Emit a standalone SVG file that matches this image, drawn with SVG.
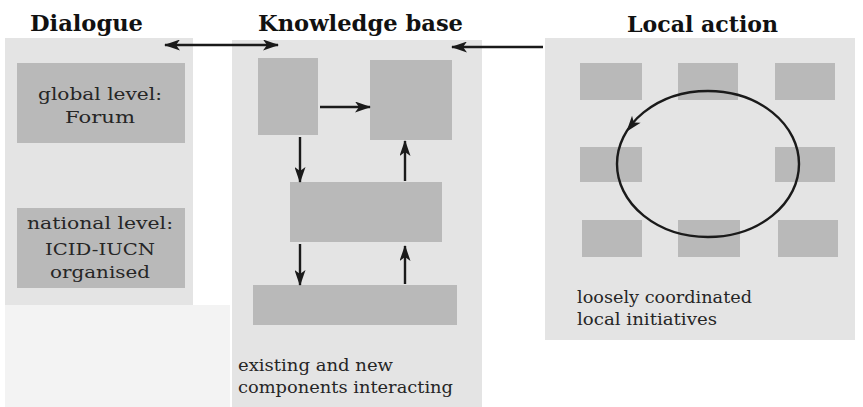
<svg xmlns="http://www.w3.org/2000/svg" width="863" height="407" viewBox="0 0 863 407">
<defs>
<style>
.panel{fill:#e4e4e4}
.box{fill:#b9b9b9}
.head{font-family:"DejaVu Serif","Liberation Serif",serif;font-weight:bold;font-size:22px;fill:#111}
.lbl{font-family:"DejaVu Serif","Liberation Serif",serif;font-size:17px;fill:#262626}
.cap{font-family:"DejaVu Serif","Liberation Serif",serif;font-size:16px;fill:#262626}
.conn{stroke:#1a1a1a;stroke-width:2.4;fill:none}
</style>
<marker id="ah" viewBox="0 0 16 11" refX="15" refY="5.5" markerWidth="16" markerHeight="11" markerUnits="userSpaceOnUse" orient="auto-start-reverse">
<path d="M0,0 L16,5.5 L0,11 L4,5.5 z" fill="#1a1a1a"/>
</marker>
</defs>
<rect width="863" height="407" fill="#ffffff"/>
<rect x="5" y="305" width="225" height="102" fill="#f3f3f3"/>

<g id="dialogue">
<rect class="panel" x="5" y="38" width="188" height="267"/>
<text class="head" x="30" y="31" textLength="113" lengthAdjust="spacingAndGlyphs">Dialogue</text>
</g>
<g id="global-level">
<rect class="box" x="17" y="63" width="168" height="80"/>
<text class="lbl" x="100" y="100" text-anchor="middle" textLength="124" lengthAdjust="spacingAndGlyphs">global level:</text>
<text class="lbl" x="100" y="123" text-anchor="middle" textLength="70" lengthAdjust="spacingAndGlyphs">Forum</text>
</g>
<g id="national-level">
<rect class="box" x="17" y="208" width="168" height="80"/>
<text class="lbl" x="100" y="229" text-anchor="middle" textLength="146" lengthAdjust="spacingAndGlyphs">national level:</text>
<text class="lbl" x="100" y="255" text-anchor="middle" textLength="110" lengthAdjust="spacingAndGlyphs">ICID-IUCN</text>
<text class="lbl" x="100" y="278" text-anchor="middle" textLength="100" lengthAdjust="spacingAndGlyphs">organised</text>
</g>

<g id="knowledge-base">
<rect class="panel" x="232" y="40" width="250" height="367"/>
<text class="head" x="258" y="31" textLength="205" lengthAdjust="spacingAndGlyphs">Knowledge base</text>
<text class="cap" x="238" y="371" textLength="155" lengthAdjust="spacingAndGlyphs">existing and new</text>
<text class="cap" x="238" y="393" textLength="215" lengthAdjust="spacingAndGlyphs">components interacting</text>
</g>
<g id="kb-top-left"><rect class="box" x="258" y="58" width="60" height="77"/></g>
<g id="kb-top-right"><rect class="box" x="370" y="60" width="82" height="80"/></g>
<g id="kb-middle"><rect class="box" x="290" y="182" width="152" height="60"/></g>
<g id="kb-bottom"><rect class="box" x="253" y="285" width="204" height="40"/></g>

<g id="local-action">
<rect class="panel" x="545" y="38" width="310" height="302"/>
<text class="head" x="627" y="32" textLength="151" lengthAdjust="spacingAndGlyphs">Local action</text>
<text class="cap" x="577" y="303" textLength="175" lengthAdjust="spacingAndGlyphs">loosely coordinated</text>
<text class="cap" x="577" y="325" textLength="140" lengthAdjust="spacingAndGlyphs">local initiatives</text>
</g>
<g id="local-boxes">
<rect class="box" x="580" y="63" width="62" height="37"/>
<rect class="box" x="678" y="63" width="60" height="37"/>
<rect class="box" x="775" y="63" width="60" height="37"/>
<rect class="box" x="580" y="147" width="62" height="35"/>
<rect class="box" x="775" y="147" width="60" height="35"/>
<rect class="box" x="582" y="220" width="60" height="37"/>
<rect class="box" x="678" y="220" width="62" height="37"/>
<rect class="box" x="778" y="220" width="60" height="37"/>
</g>

<g id="connectors">
<line class="conn" x1="165" y1="45" x2="278" y2="45" marker-start="url(#ah)" marker-end="url(#ah)"/>
<line class="conn" x1="543" y1="47" x2="452" y2="47" marker-end="url(#ah)"/>
<line class="conn" x1="320" y1="107" x2="370" y2="107" marker-end="url(#ah)"/>
<line class="conn" x1="300" y1="137" x2="300" y2="182" marker-end="url(#ah)"/>
<line class="conn" x1="405" y1="181" x2="405" y2="141" marker-end="url(#ah)"/>
<line class="conn" x1="300" y1="244" x2="300" y2="285" marker-end="url(#ah)"/>
<line class="conn" x1="405" y1="284" x2="405" y2="246" marker-end="url(#ah)"/>
<ellipse cx="708" cy="164" rx="91" ry="73" fill="none" stroke="#1a1a1a" stroke-width="2.4"/>
<path d="M0,0 L16,5.5 L0,11 L4,5.5 z" fill="#1a1a1a" transform="translate(627,131) rotate(128.5) translate(-15,-5.5)"/>
</g>
</svg>
